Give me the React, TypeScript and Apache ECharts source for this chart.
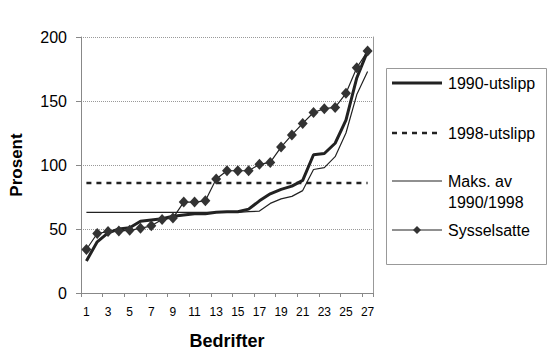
import React, { useEffect, useRef } from "react";
import * as echarts from "echarts";

const categories = ["1","2","3","4","5","6","7","8","9","10","11","12","13","14","15","16","17","18","19","20","21","22","23","24","25","26","27"];
const utslipp1990 = [25, 40, 47, 50, 51, 56, 57, 58, 60, 61, 62, 62, 63, 63.5, 63.5, 65.5, 72, 77.5, 81, 83.5, 88, 108, 109, 117, 135, 168, 189];
const utslipp1998 = [86, 86, 86, 86, 86, 86, 86, 86, 86, 86, 86, 86, 86, 86, 86, 86, 86, 86, 86, 86, 86, 86, 86, 86, 86, 86, 86];
const maks = [63, 63, 63, 63, 63, 63, 63, 63, 63, 63, 63, 63, 63, 63, 63, 63.5, 64, 70, 73.5, 75.5, 80, 96.5, 98, 106.5, 125, 155, 173];
const sysselsatte = [34, 46.5, 48, 48.5, 49, 50.5, 52.5, 57.5, 58.5, 71, 71, 72, 89, 95.5, 95.5, 95.5, 100.5, 102, 114, 123.5, 132.5, 141, 144, 145, 156, 176, 189];
const seriesNames = ["1990-utslipp", "1998-utslipp", "Maks. av\n1990/1998", "Sysselsatte"];

const FONT = "'Liberation Sans', Arial, sans-serif";
const INK = "#222";

export default function App() {
  const ref = useRef<HTMLDivElement>(null);
  useEffect(() => {
    document.body.style.margin = "0";
    const chart = echarts.init(ref.current!, null, { renderer: "svg" });
    const lx = 392;
    const legendRows = [83, 133, 181, 230];
    const graphic: any[] = [
      { type: "rect", shape: { x: 386.5, y: 68.5, width: 160, height: 196 }, style: { fill: "#fff", stroke: "#999", lineWidth: 1 }, z: 10 },
      { type: "line", shape: { x1: lx, y1: legendRows[0], x2: lx + 50, y2: legendRows[0] }, style: { stroke: INK, lineWidth: 3 }, z: 11 },
      { type: "line", shape: { x1: lx, y1: legendRows[1], x2: lx + 50, y2: legendRows[1] }, style: { stroke: INK, lineWidth: 2.5, lineDash: [5, 5] }, z: 11 },
      { type: "line", shape: { x1: lx, y1: legendRows[2], x2: lx + 50, y2: legendRows[2] }, style: { stroke: INK, lineWidth: 1.2 }, z: 11 },
      { type: "line", shape: { x1: lx, y1: legendRows[3], x2: lx + 50, y2: legendRows[3] }, style: { stroke: INK, lineWidth: 1.2 }, z: 11 },
      { type: "polygon", shape: { points: [[lx + 25, legendRows[3] - 4], [lx + 29, legendRows[3]], [lx + 25, legendRows[3] + 4], [lx + 21, legendRows[3]]] }, style: { fill: "#333" }, z: 12 },
    ];
    const texts = ["1990-utslipp", "1998-utslipp", "Maks. av", "1990/1998", "Sysselsatte"];
    const textY = [83, 133, 181, 202, 230];
    texts.forEach((t, i) => {
      graphic.push({ type: "text", x: 448, y: textY[i], style: { text: t, font: `16px ${FONT}`, fill: "#000", textVerticalAlign: "middle", verticalAlign: "middle" }, z: 12 });
    });

    chart.setOption({
      animation: false,
      backgroundColor: "#fff",
      textStyle: { fontFamily: FONT },
      grid: { left: 80, top: 37, right: 177, bottom: 63, containLabel: false },
      xAxis: {
        type: "category",
        data: categories,
        boundaryGap: true,
        axisLine: { lineStyle: { color: "#888", width: 1 } },
        axisTick: { show: true, length: 4, lineStyle: { color: "#888" } },
        axisLabel: { interval: 1, fontSize: 12, color: "#000", margin: 13, fontFamily: FONT },
        name: "Bedrifter",
        nameLocation: "middle",
        nameGap: 39,
        nameTextStyle: { fontSize: 18, fontWeight: "bold", color: "#000", fontFamily: FONT },
      },
      yAxis: [
        {
          type: "value",
          min: 0,
          max: 200,
          interval: 50,
          axisLine: { show: true, lineStyle: { color: "#888", width: 1 } },
          axisTick: { show: true, length: 5, lineStyle: { color: "#888" } },
          splitLine: { show: true, lineStyle: { color: "#999", type: [1, 1], width: 1 } },
          axisLabel: { fontSize: 16, color: "#000", margin: 14, fontFamily: FONT },
          name: "Prosent",
          nameLocation: "middle",
          nameGap: 56,
          nameTextStyle: { fontSize: 17, fontWeight: "bold", color: "#000", fontFamily: FONT },
        },
        {
          type: "value",
          min: 0,
          max: 200,
          interval: 50,
          position: "right",
          axisLine: { show: true, lineStyle: { color: "#999", width: 1 } },
          axisTick: { show: false },
          axisLabel: { show: false },
          splitLine: { show: false },
        },
      ],
      series: [
        { name: seriesNames[0], type: "line", data: utslipp1990, symbol: "none", lineStyle: { color: INK, width: 3 }, z: 3 },
        { name: seriesNames[1], type: "line", data: utslipp1998, symbol: "none", lineStyle: { color: INK, width: 2.5, type: [5, 5] }, z: 3 },
        { name: seriesNames[2], type: "line", data: maks, symbol: "none", lineStyle: { color: INK, width: 1.2 }, z: 3 },
        { name: seriesNames[3], type: "line", data: sysselsatte, symbol: "diamond", symbolSize: [10, 11], showAllSymbol: true, itemStyle: { color: "#333" }, lineStyle: { color: INK, width: 1.2 }, z: 4 },
      ],
      graphic,
    });
    return () => chart.dispose();
  }, []);
  return <div ref={ref} style={{ width: 550, height: 356 }} />;
}
